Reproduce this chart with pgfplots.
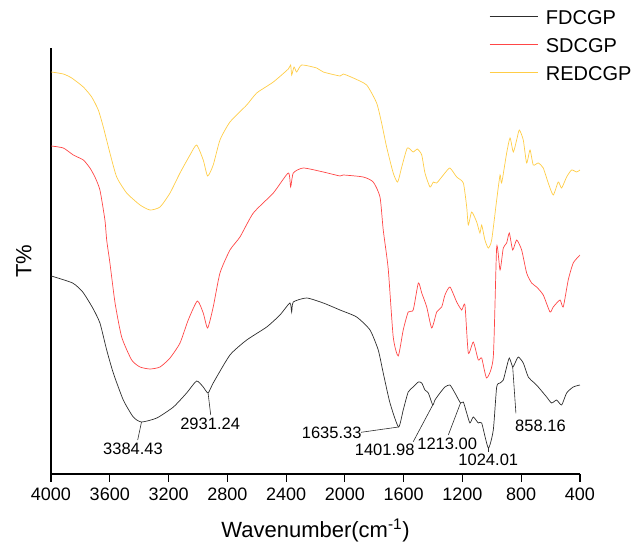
\documentclass[border=0pt]{standalone}
\usepackage{fontspec}
\setmainfont{Liberation Sans}
\usepackage{pgfplots}
\pgfplotsset{compat=1.18}
\definecolor{cblack}{RGB}{45,45,45}
\definecolor{cred}{RGB}{255,70,70}
\definecolor{cyellow}{RGB}{255,205,70}
\newcommand{\annfont}{\fontsize{16.5}{18}\selectfont}
\begin{document}
\begin{tikzpicture}
\begin{axis}[
  name=ax,
  width=529pt, height=426pt, scale only axis,
  x dir=reverse,
  xmin=400, xmax=4000, ymin=70, ymax=496,
  xtick={400,800,...,4000},
  ytick=\empty,
  axis x line=bottom, axis y line=left,
  axis line style={-, line width=1.1pt, black},
  tick align=outside, major tick length=8pt,
  every tick/.style={line width=1.1pt, black},
  /pgf/number format/1000 sep={},
  /pgf/number format/assume math mode=true,
  xticklabel style={font=\fontsize{18}{20}\selectfont, yshift=-2pt},
  xlabel={Wavenumber(cm\textsuperscript{-1})},
  ylabel={T\%},
  xlabel style={font=\fontsize{22}{24}\selectfont, at={(axis description cs:0.5,-0.133)}, anchor=center},
  ylabel style={font=\fontsize{22}{24}\selectfont, at={(axis description cs:-0.0516,0.5)}, anchor=center},
  legend style={draw=none, fill=none, at={(axis description cs:0.828,1.0998)}, anchor=north west,
    font=\fontsize{20}{22}\selectfont, inner sep=0pt, column sep=5pt, row sep=0pt,
    nodes={inner xsep=3pt, inner ysep=5pt, text height=14pt, text depth=4pt}},
  legend cell align=left,
  legend image code/.code={\draw[#1] (0pt,0.35em) -- (48pt,0.35em);},
  clip=false,
  every axis plot/.append style={smooth, tension=0.35, line width=0.7pt},
]
% FDCGP
\addplot[cblack] coordinates {
(3998,268) (3853,261) (3784,252) (3716,236) (3667,221) (3621,194) (3576,171)
(3508,144) (3440,127) (3384,122) (3280,126) (3167,137) (3077,151) (3009,163)
(2964,157) (2931,151) (2896,161) (2782,189) (2668,204) (2532,217) (2442,229)
(2374,241) (2362,232) (2351,242) (2260,246) (2147,241) (2033,234) (1920,227)
(1829,214) (1773,194) (1739,171) (1693,141) (1635,117) (1603,134) (1569,152)
(1535,157) (1500,162) (1477,161) (1455,154) (1432,151) (1402,139) (1387,144)
(1353,151) (1319,157) (1285,159) (1251,151) (1213,141) (1194,142) (1171,131)
(1149,121) (1126,127) (1092,121) (1069,121) (1024,96) (990,114) (967,157)
(944,161) (922,164) (899,177) (881,186) (858,177) (842,181) (820,187)
(786,181) (752,167) (718,162) (684,157) (627,147) (593,141) (559,144)
(525,139) (491,151) (446,157) (400,159)
};
% SDCGP
\addplot[cred] coordinates {
(3998,398) (3916,396) (3848,389) (3780,384) (3735,376) (3701,367) (3667,354)
(3633,324) (3621,304) (3599,281) (3564,241) (3519,207) (3451,184) (3394,177)
(3326,175) (3258,177) (3190,186) (3122,201) (3066,224) (3004,243) (2964,231)
(2934,216) (2896,237) (2850,271) (2782,294) (2714,307) (2623,331) (2487,351)
(2385,371) (2369,357) (2351,371) (2283,376) (2147,372) (2033,368) (2011,369)
(1875,367) (1807,362) (1761,347) (1739,314) (1705,275) (1671,207) (1637,188)
(1603,214) (1569,232) (1535,234) (1500,261) (1477,251) (1443,237) (1409,216)
(1375,232) (1341,237) (1319,249) (1285,257) (1239,242) (1205,234) (1183,239)
(1160,191) (1126,202) (1092,184) (1069,186) (1035,166) (990,187) (967,297)
(944,274) (922,296) (899,301) (881,311) (858,294) (831,304) (797,294)
(763,271) (729,261) (695,257) (650,249) (604,232) (582,237) (536,244)
(514,237) (480,264) (446,281) (400,289)
};
% REDCGP
\addplot[cyellow] coordinates {
(3998,472) (3916,470) (3859,466) (3780,457) (3723,447) (3678,434) (3644,417)
(3599,391) (3553,367) (3485,351) (3394,339) (3326,334) (3258,337) (3190,351)
(3122,371) (3054,389) (3009,399) (2964,384) (2934,368) (2896,379) (2850,404)
(2782,422) (2668,439) (2600,451) (2487,462) (2385,475) (2369,479) (2362,469)
(2346,477) (2328,472) (2294,479) (2192,476) (2147,472) (2033,468) (2011,470)
(1943,466) (1852,459) (1784,441) (1750,421) (1716,397) (1671,371) (1641,362)
(1613,377) (1575,396) (1535,392) (1507,395) (1477,389) (1455,371) (1421,357)
(1398,362) (1375,361) (1319,371) (1285,376) (1239,367) (1194,361) (1171,337)
(1160,319) (1137,332) (1103,322) (1081,311) (1069,319) (1047,304) (1024,296)
(1001,304) (967,344) (944,369) (933,361) (899,391) (876,406) (854,392)
(831,404) (813,414) (786,404) (763,381) (740,394) (718,379) (684,381)
(650,376) (616,361) (582,349) (548,362) (525,356) (491,367) (457,374)
(423,372) (400,374)
};
\legend{FDCGP, SDCGP, REDCGP}
% peak labels
\draw[cblack, line width=0.6pt] (axis cs:3384,122) -- (axis cs:3410,104);
\node[anchor=north, inner sep=0pt, font=\annfont] at (axis cs:3442,101) {3384.43};
\draw[cblack, line width=0.6pt] (axis cs:2931,151) -- (axis cs:2913,129);
\node[anchor=north, inner sep=0pt, font=\annfont] at (axis cs:2917,126) {2931.24};
\draw[cblack, line width=0.6pt] (axis cs:1635,117) -- (axis cs:1890,111.7);
\node[anchor=north, inner sep=0pt, font=\annfont] at (axis cs:2090,117.3) {1635.33};
\draw[cblack, line width=0.6pt] (axis cs:1402,139) -- (axis cs:1535,102.3);
\node[anchor=north, inner sep=0pt, font=\annfont] at (axis cs:1729,100.7) {1401.98};
\draw[cblack, line width=0.6pt] (axis cs:1213,141) -- (axis cs:1296,109);
\node[anchor=north, inner sep=0pt, font=\annfont] at (axis cs:1304,106.3) {1213.00};
\draw[cblack, line width=0.6pt] (axis cs:1024,96) -- (axis cs:1024,92);
\node[anchor=north, inner sep=0pt, font=\annfont] at (axis cs:1024,90.7) {1024.01};
\draw[cblack, line width=0.6pt] (axis cs:858,177) -- (axis cs:836,130.7);
\node[anchor=north, inner sep=0pt, font=\annfont] at (axis cs:669,124) {858.16};
\end{axis}
\pgfresetboundingbox
\path (ax.south west) ++(-51pt,-70pt) rectangle ++(641pt,544pt);
\end{tikzpicture}
\end{document}
